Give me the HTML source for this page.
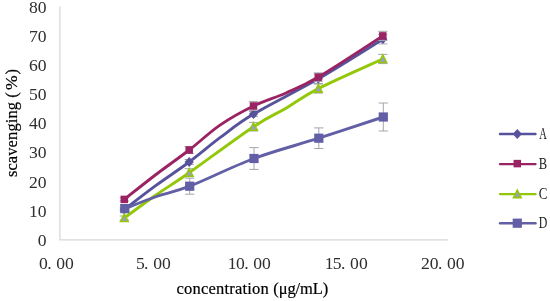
<!DOCTYPE html>
<html><head><meta charset="utf-8"><title>chart</title>
<style>
html,body{margin:0;padding:0;background:#fff;}
svg{display:block;will-change:transform}
.tick{font-family:"Liberation Serif","Noto Serif CJK SC",serif;font-size:17.6px;fill:#2e2e2e}
.ttl{font-family:"Liberation Serif",serif;font-size:16.5px;fill:#000;stroke:#000;stroke-width:0.2px}
.leg{font-family:"Liberation Serif","Noto Serif CJK SC",serif;font-size:17.5px;fill:#1a1a1a}
</style></head><body>
<svg width="550" height="301" viewBox="0 0 550 301">
<rect width="550" height="301" fill="#fff"/>

<path d="M59.9,6.5 V239.9 H448.2" fill="none" stroke="#D8D8D8" stroke-width="1.3"/>
<text class="tick" text-anchor="middle" x="42.20" y="246.00">0</text>
<text class="tick" text-anchor="middle" x="33.40 42.20" y="217.00">10</text>
<text class="tick" text-anchor="middle" x="33.40 42.20" y="188.00">20</text>
<text class="tick" text-anchor="middle" x="33.40 42.20" y="158.00">30</text>
<text class="tick" text-anchor="middle" x="33.40 42.20" y="129.00">40</text>
<text class="tick" text-anchor="middle" x="33.40 42.20" y="100.00">50</text>
<text class="tick" text-anchor="middle" x="33.40 42.20" y="71.00">60</text>
<text class="tick" text-anchor="middle" x="33.40 42.20" y="42.00">70</text>
<text class="tick" text-anchor="middle" x="33.40 42.20" y="13.00">80</text>
<text class="tick" text-anchor="middle" x="43.45 49.45 60.65 69.45" y="269.00">0.00</text>
<text class="tick" text-anchor="middle" x="140.33 146.32 157.53 166.32" y="269.00">5.00</text>
<text class="tick" text-anchor="middle" x="232.20 240.40 246.40 257.60 266.40" y="269.00">10.00</text>
<text class="tick" text-anchor="middle" x="329.07 337.27 343.28 354.48 363.28" y="269.00">15.00</text>
<text class="tick" text-anchor="middle" x="425.35 434.15 440.15 451.35 460.15" y="269.00">20.00</text>
<text class="ttl" transform="translate(17.2,177.1) rotate(-90)" letter-spacing="0.1">scavenging (<tspan dx="2" font-size="17.6">%</tspan><tspan dx="0.7">)</tspan></text>
<text class="ttl" x="176.6" y="294"><tspan letter-spacing="0.2">concentration</tspan><tspan x="273.3" letter-spacing="-0.1">(μg/mL)</tspan></text>
<path d="M124.3,208.0 V211.0 M119.7,208.0 h9.2 M119.7,211.0 h9.2" stroke="#A4A4AE" stroke-width="1" fill="none"/>
<path d="M189.2,159.5 V164.5 M184.6,159.5 h9.2 M184.6,164.5 h9.2" stroke="#A4A4AE" stroke-width="1" fill="none"/>
<path d="M253.5,111.6 V116.6 M248.9,111.6 h9.2 M248.9,116.6 h9.2" stroke="#A4A4AE" stroke-width="1" fill="none"/>
<path d="M318.3,74.1 V83.5 M313.7,74.1 h9.2 M313.7,83.5 h9.2" stroke="#A4A4AE" stroke-width="1" fill="none"/>
<path d="M382.8,34.5 V43.9 M378.2,34.5 h9.2 M378.2,43.9 h9.2" stroke="#A4A4AE" stroke-width="1" fill="none"/>
<path d="M124.30,209.50 C129.58,205.48 145.18,193.32 156.00,185.40 C166.82,177.48 178.53,169.95 189.20,162.00 C199.87,154.05 209.28,145.68 220.00,137.70 C230.72,129.72 237.12,123.92 253.50,114.10 C269.88,104.28 296.75,91.28 318.30,78.80 C339.85,66.32 372.05,45.80 382.80,39.20" fill="none" stroke="#56539C" stroke-width="2.9" stroke-linecap="round" stroke-linejoin="round"/>
<path d="M119.70,209.50 L124.30,204.60 L128.90,209.50 L124.30,214.40 Z" fill="#56539C"/>
<path d="M184.60,162.00 L189.20,157.10 L193.80,162.00 L189.20,166.90 Z" fill="#56539C"/>
<path d="M248.90,114.10 L253.50,109.20 L258.10,114.10 L253.50,119.00 Z" fill="#56539C"/>
<path d="M313.70,78.80 L318.30,73.90 L322.90,78.80 L318.30,83.70 Z" fill="#56539C"/>
<path d="M378.20,39.20 L382.80,34.30 L387.40,39.20 L382.80,44.10 Z" fill="#56539C"/>
<path d="M124.3,197.9 V200.9 M119.7,197.9 h9.2 M119.7,200.9 h9.2" stroke="#A4A4AE" stroke-width="1" fill="none"/>
<path d="M189.2,146.5 V153.5 M184.6,146.5 h9.2 M184.6,153.5 h9.2" stroke="#A4A4AE" stroke-width="1" fill="none"/>
<path d="M253.5,101.6 V110.4 M248.9,101.6 h9.2 M248.9,110.4 h9.2" stroke="#A4A4AE" stroke-width="1" fill="none"/>
<path d="M318.3,72.9 V81.3 M313.7,72.9 h9.2 M313.7,81.3 h9.2" stroke="#A4A4AE" stroke-width="1" fill="none"/>
<path d="M382.8,31.3 V40.5 M378.2,31.3 h9.2 M378.2,40.5 h9.2" stroke="#A4A4AE" stroke-width="1" fill="none"/>
<path d="M124.30,199.40 C129.58,195.25 145.18,182.73 156.00,174.50 C166.82,166.27 178.53,158.23 189.20,150.00 C199.87,141.77 209.28,132.43 220.00,125.10 C230.72,117.77 242.50,111.35 253.50,106.00 C264.50,100.65 275.20,97.82 286.00,93.00 C296.80,88.18 302.17,86.62 318.30,77.10 C334.43,67.58 372.05,42.77 382.80,35.90" fill="none" stroke="#9A2463" stroke-width="2.9" stroke-linecap="round" stroke-linejoin="round"/>
<rect x="120.55" y="195.65" width="7.5" height="7.5" fill="#9A2463"/>
<rect x="185.45" y="146.25" width="7.5" height="7.5" fill="#9A2463"/>
<rect x="249.75" y="102.25" width="7.5" height="7.5" fill="#9A2463"/>
<rect x="314.55" y="73.35" width="7.5" height="7.5" fill="#9A2463"/>
<rect x="379.05" y="32.15" width="7.5" height="7.5" fill="#9A2463"/>
<path d="M124.3,216.0 V220.0 M119.7,216.0 h9.2 M119.7,220.0 h9.2" stroke="#A4A4AE" stroke-width="1" fill="none"/>
<path d="M189.2,168.7 V176.7 M184.6,168.7 h9.2 M184.6,176.7 h9.2" stroke="#A4A4AE" stroke-width="1" fill="none"/>
<path d="M253.5,122.4 V131.0 M248.9,122.4 h9.2 M248.9,131.0 h9.2" stroke="#A4A4AE" stroke-width="1" fill="none"/>
<path d="M318.3,84.1 V93.1 M313.7,84.1 h9.2 M313.7,93.1 h9.2" stroke="#A4A4AE" stroke-width="1" fill="none"/>
<path d="M382.8,54.4 V63.6 M378.2,54.4 h9.2 M378.2,63.6 h9.2" stroke="#A4A4AE" stroke-width="1" fill="none"/>
<path d="M124.30,218.00 C129.58,214.17 145.18,202.55 156.00,195.00 C166.82,187.45 172.95,184.08 189.20,172.70 C205.45,161.32 237.37,137.45 253.50,126.70 C269.63,115.95 275.20,114.55 286.00,108.20 C296.80,101.85 302.17,96.80 318.30,88.60 C334.43,80.40 372.05,63.93 382.80,59.00" fill="none" stroke="#93C80A" stroke-width="2.9" stroke-linecap="round" stroke-linejoin="round"/>
<path d="M124.30,214.10 L128.10,221.50 L120.50,221.50 Z" fill="#9C9CC4" stroke="#93C80A" stroke-width="1.6" stroke-linejoin="miter"/>
<path d="M189.20,168.80 L193.00,176.20 L185.40,176.20 Z" fill="#9C9CC4" stroke="#93C80A" stroke-width="1.6" stroke-linejoin="miter"/>
<path d="M253.50,122.80 L257.30,130.20 L249.70,130.20 Z" fill="#9C9CC4" stroke="#93C80A" stroke-width="1.6" stroke-linejoin="miter"/>
<path d="M318.30,84.70 L322.10,92.10 L314.50,92.10 Z" fill="#9C9CC4" stroke="#93C80A" stroke-width="1.6" stroke-linejoin="miter"/>
<path d="M382.80,55.10 L386.60,62.50 L379.00,62.50 Z" fill="#9C9CC4" stroke="#93C80A" stroke-width="1.6" stroke-linejoin="miter"/>
<path d="M124.8,205.6 V211.6 M120.2,205.6 h9.2 M120.2,211.6 h9.2" stroke="#A4A4AE" stroke-width="1" fill="none"/>
<path d="M189.7,178.2 V194.2 M185.1,178.2 h9.2 M185.1,194.2 h9.2" stroke="#A4A4AE" stroke-width="1" fill="none"/>
<path d="M254.0,147.6 V169.4 M249.4,147.6 h9.2 M249.4,169.4 h9.2" stroke="#A4A4AE" stroke-width="1" fill="none"/>
<path d="M318.8,127.9 V148.5 M314.2,127.9 h9.2 M314.2,148.5 h9.2" stroke="#A4A4AE" stroke-width="1" fill="none"/>
<path d="M383.3,103.0 V131.0 M378.7,103.0 h9.2 M378.7,131.0 h9.2" stroke="#A4A4AE" stroke-width="1" fill="none"/>
<path d="M124.80,208.60 C130.08,206.58 145.68,200.23 156.50,196.50 C167.32,192.77 173.45,192.53 189.70,186.20 C205.95,179.87 232.48,166.50 254.00,158.50 C275.52,150.50 297.25,145.12 318.80,138.20 C340.35,131.28 372.55,120.53 383.30,117.00" fill="none" stroke="#625FA6" stroke-width="2.9" stroke-linecap="round" stroke-linejoin="round"/>
<rect x="120.20" y="204.00" width="9.2" height="9.2" fill="#625FA6"/>
<rect x="185.10" y="181.60" width="9.2" height="9.2" fill="#625FA6"/>
<rect x="249.40" y="153.90" width="9.2" height="9.2" fill="#625FA6"/>
<rect x="314.20" y="133.60" width="9.2" height="9.2" fill="#625FA6"/>
<rect x="378.70" y="112.40" width="9.2" height="9.2" fill="#625FA6"/>
<path d="M500,134.0 H535.5" stroke="#56539C" stroke-width="2.4" stroke-linecap="round"/>
<path d="M512.70,134.00 L517.30,129.10 L521.90,134.00 L517.30,138.90 Z" fill="#56539C"/>
<text class="leg" transform="translate(543,139.1) scale(0.6,1)" text-anchor="middle">A</text>
<path d="M500,164.1 H535.5" stroke="#9A2463" stroke-width="2.4" stroke-linecap="round"/>
<rect x="513.55" y="159.85" width="7.5" height="7.5" fill="#9A2463"/>
<text class="leg" transform="translate(543,169.2) scale(0.72,1)" text-anchor="middle">B</text>
<path d="M500,194.1 H535.5" stroke="#93C80A" stroke-width="2.4" stroke-linecap="round"/>
<path d="M517.30,190.20 L521.10,197.60 L513.50,197.60 Z" fill="#9C9CC4" stroke="#93C80A" stroke-width="1.6" stroke-linejoin="miter"/>
<text class="leg" transform="translate(543,199.2) scale(0.74,1)" text-anchor="middle">C</text>
<path d="M500,223.2 H535.5" stroke="#625FA6" stroke-width="2.4" stroke-linecap="round"/>
<rect x="512.70" y="218.60" width="9.2" height="9.2" fill="#625FA6"/>
<text class="leg" transform="translate(543,228.3) scale(0.68,1)" text-anchor="middle">D</text>
</svg></body></html>
